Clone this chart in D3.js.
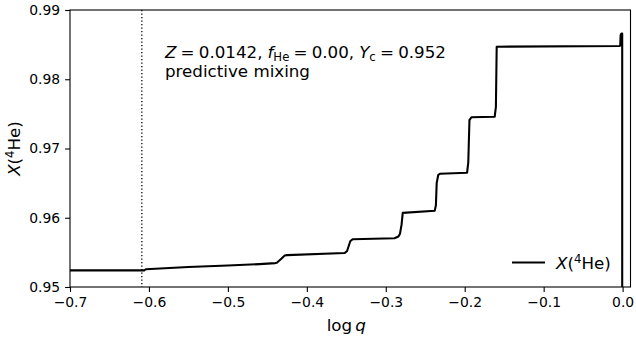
<!DOCTYPE html>
<html><head><meta charset="utf-8">
<script src="https://cdn.jsdelivr.net/npm/d3@7"></script>
<style>body{margin:0;background:#fff}svg{display:block;font-family:"DejaVu Sans",sans-serif}</style>
</head><body><svg id="c" width="636" height="337"></svg>
<script>
const logQ = [-0.7, -0.606, -0.604, -0.55, -0.5, -0.46, -0.44, -0.438, -0.433, -0.428, -0.425, -0.352, -0.349, -0.345, -0.342, -0.289, -0.284, -0.282, -0.280, -0.2785, -0.238, -0.2365, -0.2355, -0.2335, -0.2315, -0.197, -0.1955, -0.1940, -0.1915, -0.162, -0.1605, -0.1595, -0.004, -0.003, -0.0025, -0.0015, -0.0005, -0.0005];
const xHe4 = [0.9524, 0.9524, 0.95256, 0.9529, 0.9531, 0.9533, 0.95345, 0.9535, 0.9540, 0.95455, 0.9546, 0.9549, 0.9552, 0.9566, 0.9569, 0.95705, 0.9573, 0.9577, 0.9590, 0.9607, 0.9610, 0.9618, 0.9650, 0.9662, 0.96635, 0.9665, 0.9680, 0.9741, 0.97451, 0.97459, 0.9760, 0.9847, 0.9848, 0.98485, 0.9864, 0.9866, 0.9866, 0.949];
const xTicks = [-0.7, -0.6, -0.5, -0.4, -0.3, -0.2, -0.1, 0.0];
const yTicks = [0.95, 0.96, 0.97, 0.98, 0.99];
const xDomain = [-0.7, 0.01];
const yDomain = [0.95, 0.99];
const vline = -0.609;

const svg = d3.select("#c");
const L = 70, R = 630.5, T = 10, B = 287;
const x = d3.scaleLinear().domain(xDomain).range([L, R]);
const y = d3.scaleLinear().domain(yDomain).range([B, T]);
const fs = 13.9, fl = 16.7;
const sp = 0.25 * fl;

svg.append("clipPath").attr("id","cp").append("rect").attr("x",L).attr("y",T).attr("width",R-L).attr("height",B-T);

// dotted vertical line
svg.append("line").attr("x1",x(vline)).attr("x2",x(vline)).attr("y1",T).attr("y2",B)
  .attr("stroke","#000").attr("stroke-width",1.3).attr("stroke-dasharray","1.3,2.2");

// data line
const data = logQ.map((v,i)=>[v,xHe4[i]]);
svg.append("path").datum(data).attr("clip-path","url(#cp)")
  .attr("d", d3.line().x(d=>x(d[0])).y(d=>y(d[1])))
  .attr("fill","none").attr("stroke","#000").attr("stroke-width",2.08).attr("stroke-linejoin","round");

// axes
const fmtX = d => (d<0?"\u2212":"") + Math.abs(d).toFixed(1);
const xa = svg.append("g").attr("transform",`translate(0,${B})`)
  .call(d3.axisBottom(x).tickValues(xTicks).tickFormat(fmtX).tickSizeOuter(0).tickSize(4.9).tickPadding(4.9));
const ya = svg.append("g").attr("transform",`translate(${L},0)`)
  .call(d3.axisLeft(y).tickValues(yTicks).tickFormat(d=>d.toFixed(2)).tickSizeOuter(0).tickSize(4.9).tickPadding(4.9));
[xa,ya].forEach(g=>{
  g.select(".domain").remove();
  g.selectAll("line").attr("stroke","#000").attr("stroke-width",1.1);
  g.selectAll("text").attr("font-size",fs).attr("fill","#000").attr("font-family","DejaVu Sans");
});
// spines
svg.append("rect").attr("x",L).attr("y",T).attr("width",R-L).attr("height",B-T)
  .attr("fill","none").attr("stroke","#000").attr("stroke-width",1.1);

// axis labels
const xl = svg.append("text").attr("x",(L+R)/2 - 4).attr("y",331).attr("text-anchor","middle").attr("font-size",fl);
xl.append("tspan").text("log");
xl.append("tspan").attr("dx",3).attr("font-style","italic").text("q");

const yl = svg.append("text").attr("transform",`translate(20,${(T+B)/2}) rotate(-90)`).attr("text-anchor","middle").attr("font-size",fl);
yl.append("tspan").attr("font-style","italic").text("X");
yl.append("tspan").text("(");
yl.append("tspan").attr("font-size",fl*0.7).attr("dy",-6).text("4");
yl.append("tspan").attr("dy",6).text("He)");

// annotation
const a1 = svg.append("text").attr("x",165).attr("y",57.5).attr("font-size",fl);
a1.append("tspan").attr("font-style","italic").text("Z");
a1.append("tspan").attr("dx",sp).text("=");
a1.append("tspan").attr("dx",sp).text("0.0142,");
a1.append("tspan").attr("dx",sp*1.2).attr("font-style","italic").text("f");
a1.append("tspan").attr("font-size",fl*0.7).attr("dy",3).text("He");
a1.append("tspan").attr("dy",-3).attr("dx",sp).text("=");
a1.append("tspan").attr("dx",sp).text("0.00,");
a1.append("tspan").attr("dx",sp*1.2).attr("font-style","italic").text("Y");
a1.append("tspan").attr("font-size",fl*0.7).attr("dy",3).text("c");
a1.append("tspan").attr("dy",-3).attr("dx",sp).text("=");
a1.append("tspan").attr("dx",sp).text("0.952");
svg.append("text").attr("x",165).attr("y",77).attr("font-size",fl).text("predictive mixing");

// legend
svg.append("line").attr("x1",512).attr("x2",545).attr("y1",262.5).attr("y2",262.5).attr("stroke","#000").attr("stroke-width",2.08);
const lg = svg.append("text").attr("x",556).attr("y",268.5).attr("font-size",fl);
lg.append("tspan").attr("font-style","italic").text("X");
lg.append("tspan").text("(");
lg.append("tspan").attr("font-size",fl*0.7).attr("dy",-6).text("4");
lg.append("tspan").attr("dy",6).text("He)");
</script></body></html>
